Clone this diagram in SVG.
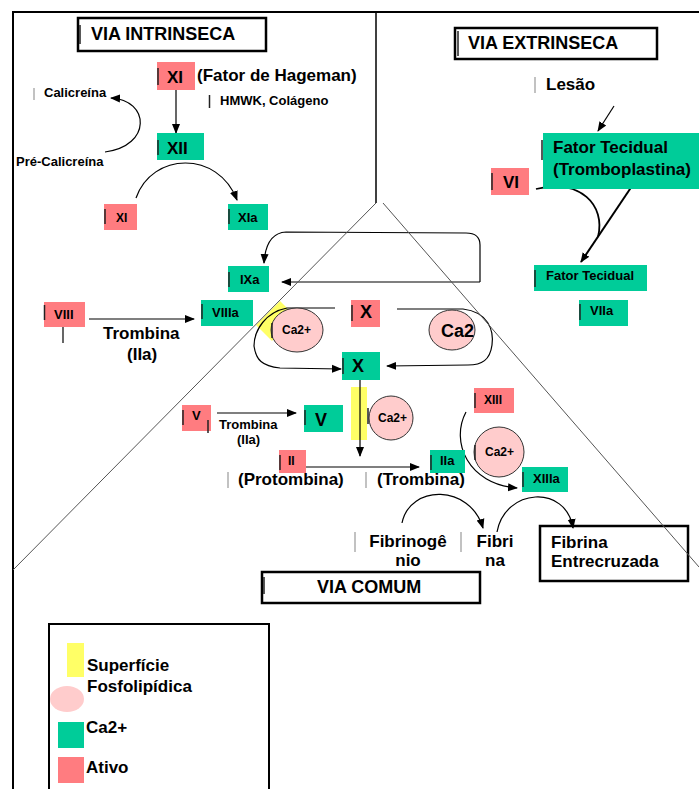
<svg xmlns="http://www.w3.org/2000/svg" width="699" height="789" viewBox="0 0 699 789">
<defs>
<marker id="ah" markerWidth="10" markerHeight="10" refX="9" refY="5" orient="auto" markerUnits="userSpaceOnUse"><path d="M0,1 L10,5 L0,9 z" fill="#000"/></marker>
<style>
text{font-family:"Liberation Sans",Arial,sans-serif;font-weight:bold;fill:#000}
.g{fill:#00CC99}
.r{fill:#FF7C80}
.y{fill:#FFFF66}
.ca{fill:#FFCCCC;stroke:#333;stroke-width:1}
.hdr{fill:#fff;stroke:#000;stroke-width:2.5}
.ln{fill:none;stroke:#000;stroke-width:1.2}
.dg{fill:none;stroke:#555;stroke-width:1}
.bar{stroke:#222;stroke-width:1.5}
.barg{stroke:#999;stroke-width:1.2}
.s12{font-size:12px}.s13{font-size:13px}.s17{font-size:17px}.s18{font-size:18px}
</style>
</defs>
<rect width="699" height="789" fill="#fff"/>
<g id="frame">
<path d="M13,789 L13,12 L699,12" fill="none" stroke="#000" stroke-width="2"/>
<line x1="376" y1="12" x2="376" y2="203" stroke="#000" stroke-width="1.5"/>
</g>
<g id="yellow-surface">
<polygon class="y" points="256,325 280,301 296,317 272,341"/>
</g>
<g id="connectors">
<path class="ln" d="M105,152 C152,146 150,100 111,98" marker-end="url(#ah)"/>
<line class="ln" x1="176" y1="90" x2="176" y2="133" marker-end="url(#ah)"/>
<path class="ln" d="M136,198 C152,152 218,150 237,200" marker-end="url(#ah)"/>
<path class="ln" d="M480,282 L480,245 Q480,233 466,233 L286,232 Q266,233 264,263" marker-end="url(#ah)"/>
<line class="ln" x1="480" y1="282" x2="282" y2="282" marker-end="url(#ah)"/>
<line class="ln" x1="89" y1="319" x2="194" y2="319" marker-end="url(#ah)"/>
<path class="ln" d="M335,308 L287,308 C266,312 254,330 254,346 C256,360 262,366 280,368 L341,369" marker-end="url(#ah)"/>
<path class="ln" d="M397,309 L463,309 C488,312 494,330 492,345 C490,360 482,365 468,365 L387,366" marker-end="url(#ah)"/>
<line class="ln" x1="217" y1="413" x2="296" y2="413" marker-end="url(#ah)"/>
<line class="ln" x1="360" y1="380" x2="360" y2="456" marker-end="url(#ah)"/>
<line class="ln" x1="306" y1="467" x2="419" y2="467" marker-end="url(#ah)"/>
<path class="ln" d="M466,412 C450,442 468,484 517,488" marker-end="url(#ah)"/>
<path class="ln" d="M402,523 C410,484 470,484 483,528" marker-end="url(#ah)"/>
<path class="ln" d="M497,532 C505,488 566,484 573,528" marker-end="url(#ah)"/>
<line class="ln" x1="614" y1="106" x2="598" y2="131" marker-end="url(#ah)"/>
<path fill="none" stroke="#000" stroke-width="1.8" d="M536,189 C580,178 606,205 598,237"/>
<line fill="none" stroke="#000" stroke-width="2" x1="632" y1="186" x2="581" y2="262" marker-end="url(#ah)"/>
<line class="ln" x1="63" y1="327" x2="63" y2="343"/>
</g>
<g id="header-intrinseca"><rect class="hdr" x="78" y="18" width="188" height="33"/><text class="s18" x="91" y="40">VIA INTRINSECA</text></g>
<g id="header-extrinseca"><rect class="hdr" x="455" y="28" width="202" height="31"/><text class="s18" x="468" y="49">VIA EXTRINSECA</text></g>
<g id="header-comum"><rect class="hdr" x="262" y="572" width="218" height="31"/><text class="s18" x="317" y="593">VIA COMUM</text></g>
<g id="n-XI-top"><rect class="r" x="157" y="62" width="38" height="28"/><text class="s17" x="167" y="83">XI</text></g>
<g id="t-hageman"><text class="s17" x="197" y="81">(Fator de Hageman)</text></g>
<g id="t-hmwk"><text class="s13" x="220" y="105">HMWK, Colágeno</text></g>
<g id="t-calicreina"><text class="s13" x="44" y="97">Calicreína</text></g>
<g id="t-precalicreina"><text class="s13" x="16" y="166">Pré-Calicreína</text></g>
<g id="n-XII"><rect class="g" x="157" y="133" width="47" height="27"/><text class="s17" x="167" y="154">XII</text></g>
<g id="n-XI"><rect class="r" x="104" y="204" width="33" height="26"/><text class="s12" x="116" y="222">XI</text></g>
<g id="n-XIa"><rect class="g" x="228" y="204" width="40" height="26"/><text class="s13" x="238" y="222">XIa</text></g>
<g id="n-IXa"><rect class="g" x="228" y="266" width="41" height="26"/><text class="s13" x="240" y="284">IXa</text></g>
<g id="n-VIII"><rect class="r" x="44" y="302" width="41" height="25"/><text class="s13" x="54" y="319">VIII</text></g>
<g id="t-trombina1"><text class="s17" x="103" y="339">Trombina</text><text class="s17" x="127" y="360">(IIa)</text></g>
<g id="n-VIIIa"><rect class="g" x="201" y="300" width="52" height="26"/><text class="s13" x="212" y="317">VIIIa</text></g>
<g id="n-Ca-left"><ellipse class="ca" cx="297" cy="330" rx="26" ry="22"/><text class="s12" x="282" y="334">Ca2+</text></g>
<g id="n-X-red"><rect class="r" x="351" y="300" width="29" height="27"/><text class="s18" x="360" y="318">X</text></g>
<g id="n-Ca2-right"><ellipse class="ca" cx="452" cy="330" rx="23" ry="20"/><text class="s18" x="441" y="337">Ca2</text></g>
<g id="n-X-green"><rect class="g" x="342" y="352" width="38" height="28"/><text class="s18" x="352" y="372">X</text></g>
<g id="n-V-red"><rect class="r" x="182" y="405" width="29" height="26"/><text class="s13" x="192" y="420">V</text></g>
<g id="t-trombina2"><text class="s13" x="219" y="429">Trombina</text><text class="s13" x="237" y="444">(IIa)</text></g>
<g id="n-V-green"><rect class="g" x="304" y="405" width="39" height="27"/><text class="s18" x="315" y="426">V</text></g>
<g id="yellow-surface-2"><rect class="y" x="351" y="387" width="16" height="53"/></g>
<line class="ln" x1="360" y1="387" x2="360" y2="440"/>
<g id="n-Ca-mid"><circle class="ca" cx="391" cy="418" r="22"/><text class="s12" x="378" y="422">Ca2+</text></g>
<g id="n-II"><rect class="r" x="279" y="450" width="27" height="23"/><text class="s12" x="288" y="465">II</text></g>
<g id="n-IIa"><rect class="g" x="430" y="450" width="35" height="23"/><text class="s13" x="440" y="465">IIa</text></g>
<g id="t-protombina"><text class="s17" x="238" y="485">(Protombina)</text></g>
<g id="t-trombina3"><text class="s17" x="377" y="485">(Trombina)</text></g>
<g id="n-XIII"><rect class="r" x="474" y="388" width="40" height="25"/><text class="s12" x="484" y="404">XIII</text></g>
<g id="n-Ca-low"><circle class="ca" cx="499" cy="452" r="25"/><text class="s12" x="485" y="456">Ca2+</text></g>
<g id="n-XIIIa"><rect class="g" x="522" y="467" width="46" height="25"/><text class="s13" x="533" y="483">XIIIa</text></g>
<g id="t-fibrinogenio"><text class="s17" x="408" y="547" text-anchor="middle">Fibrinogê</text><text class="s17" x="408" y="566" text-anchor="middle">nio</text></g>
<g id="t-fibrina"><text class="s17" x="495" y="547" text-anchor="middle">Fibri</text><text class="s17" x="495" y="566" text-anchor="middle">na</text></g>
<g id="n-fibrina-entrecruzada"><rect x="540" y="526" width="148" height="55" fill="none" stroke="#000" stroke-width="2.5"/><text class="s17" x="551" y="548">Fibrina</text><text class="s17" x="551" y="567">Entrecruzada</text></g>
<g id="t-lesao"><text class="s17" x="546" y="90">Lesão</text></g>
<g id="n-fator-tecidual"><rect class="g" x="543" y="133" width="156" height="56"/><text class="s17" x="553" y="153">Fator Tecidual</text><text class="s17" x="553" y="175">(Tromboplastina)</text></g>
<g id="n-VI"><rect class="r" x="491" y="168" width="38" height="27"/><text class="s17" x="503" y="188">VI</text></g>
<g id="n-fator-tecidual-small"><rect class="g" x="534" y="265" width="113" height="26"/><text class="s13" x="546" y="280" textLength="88">Fator Tecidual</text></g>
<g id="n-VIIa"><rect class="g" x="579" y="300" width="49" height="26"/><text class="s13" x="590" y="315">VIIa</text></g>
<g id="diagonals">
<line class="dg" x1="376" y1="203" x2="13" y2="570"/>
<line class="dg" x1="383" y1="203" x2="699" y2="567"/>
</g>
<g id="cursor-bars">
<line class="bar" x1="80" y1="25" x2="80" y2="44"/>
<line class="bar" x1="158" y1="68" x2="158" y2="85"/>
<line class="bar" x1="209.5" y1="95" x2="209.5" y2="108"/>
<line class="barg" x1="34" y1="88" x2="34" y2="100"/>
<line class="bar" x1="158" y1="140" x2="158" y2="155"/>
<line class="bar" x1="105" y1="209" x2="105" y2="224"/>
<line class="bar" x1="229" y1="209" x2="229" y2="224"/>
<line class="bar" x1="229" y1="272" x2="229" y2="287"/>
<line class="bar" x1="202" y1="304" x2="202" y2="319"/>
<line class="bar" x1="44.5" y1="305" x2="44.5" y2="320"/>
<line class="bar" x1="272" y1="323" x2="272" y2="338"/>
<line class="bar" x1="352" y1="305" x2="352" y2="321"/>
<line class="bar" x1="343" y1="358" x2="343" y2="374"/>
<line class="bar" x1="183" y1="410" x2="183" y2="425"/>
<line class="bar" x1="208" y1="420" x2="208" y2="433"/>
<line class="bar" x1="305" y1="410" x2="305" y2="425"/>
<line class="bar" x1="368" y1="408" x2="368" y2="424"/>
<line class="bar" x1="280" y1="455" x2="280" y2="470"/>
<line class="bar" x1="431" y1="455" x2="431" y2="470"/>
<line class="barg" x1="228" y1="472" x2="228" y2="488"/>
<line class="barg" x1="366" y1="472" x2="366" y2="488"/>
<line class="bar" x1="475" y1="393" x2="475" y2="408"/>
<line class="bar" x1="475" y1="445" x2="475" y2="460"/>
<line class="bar" x1="523" y1="472" x2="523" y2="487"/>
<line class="barg" x1="355" y1="532" x2="355" y2="552"/>
<line class="barg" x1="461" y1="532" x2="461" y2="552"/>
<line class="bar" x1="264" y1="577" x2="264" y2="594"/>
<line class="bar" x1="458" y1="31" x2="458" y2="56"/>
<line class="barg" x1="535" y1="77" x2="535" y2="93"/>
<line class="bar" x1="542" y1="140" x2="542" y2="160"/>
<line class="bar" x1="492" y1="173" x2="492" y2="190"/>
<line class="bar" x1="535" y1="270" x2="535" y2="287"/>
<line class="bar" x1="580" y1="304" x2="580" y2="320"/>
</g>
<g id="legend">
<rect x="49" y="624" width="220" height="170" fill="none" stroke="#000" stroke-width="2"/>
<rect class="y" x="67" y="643" width="17" height="34"/>
<text class="s17" x="87" y="671">Superfície</text>
<text class="s17" x="87" y="692">Fosfolipídica</text>
<ellipse cx="67" cy="699" rx="17" ry="13" fill="#FFCCCC"/>
<rect class="g" x="58" y="722" width="26" height="26"/>
<text class="s17" x="86" y="733">Ca2+</text>
<rect class="r" x="58" y="757" width="26" height="26"/>
<text class="s17" x="86" y="773">Ativo</text>
</g>
</svg>
